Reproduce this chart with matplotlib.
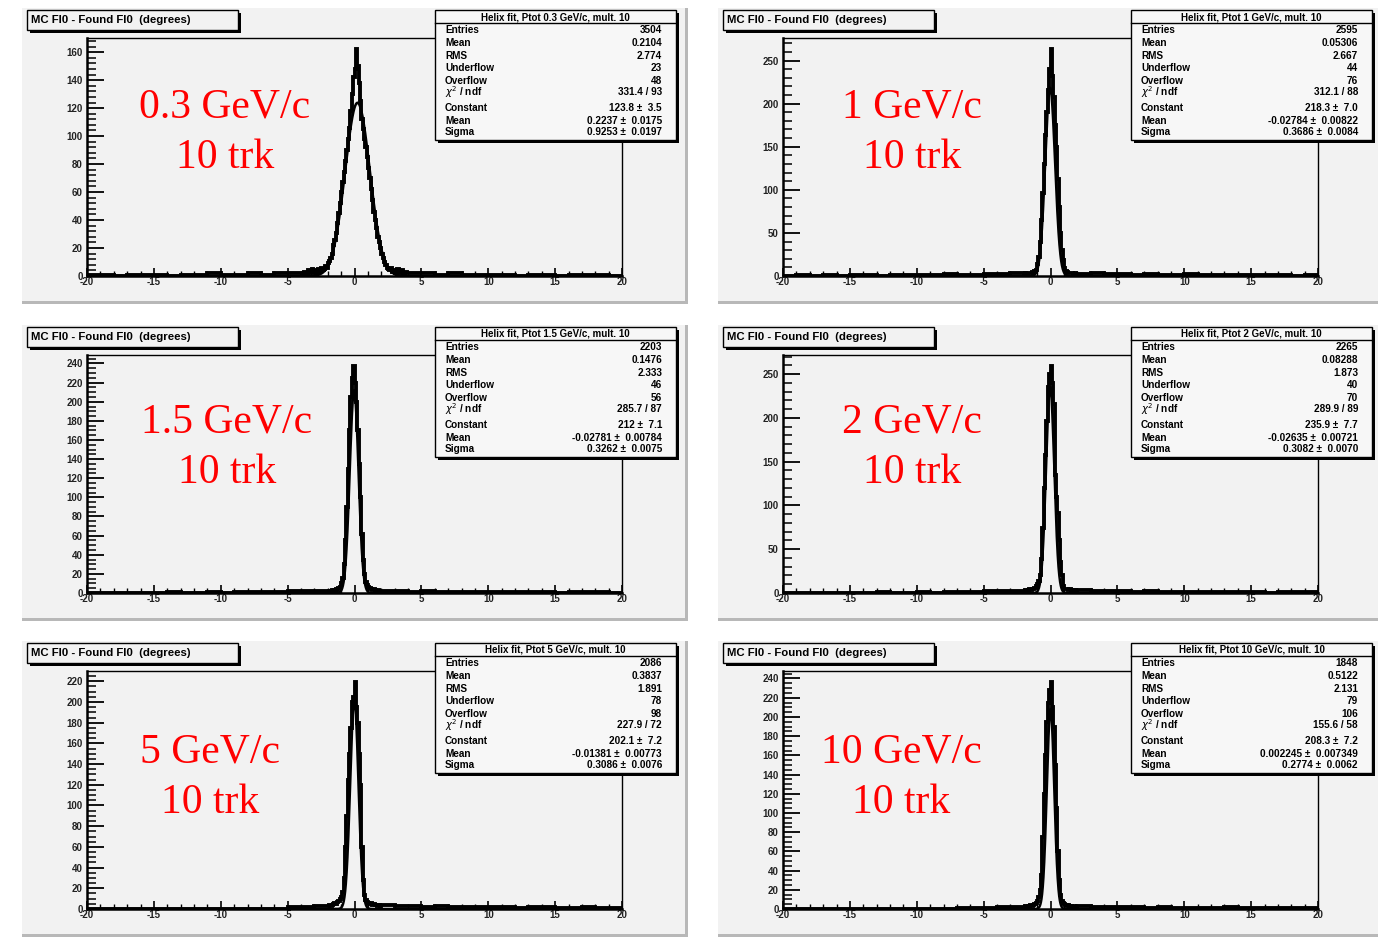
import numpy as np
import matplotlib.pyplot as plt
from matplotlib.patches import Rectangle
from matplotlib.ticker import MultipleLocator

plt.rcParams["axes.unicode_minus"] = False

W, H = 1378, 942

# histogram counts (per 0.1 deg bin); core is 0.1 deg bins, tails are 1 deg bins
core_lim = [4, 2, 2, 2, 2, 2]

core_03 = [2, 1, 3, 2, 1, 4, 2, 3, 5, 2,
           3, 4, 2, 5, 3, 6, 4, 5, 7, 6,
           9, 11, 13, 16, 22, 26, 31, 38, 45, 52,
           60, 67, 74, 82, 90, 98, 106, 118, 130, 142,
           148, 162, 150, 138, 125, 112, 105, 98, 92, 85,
           77, 70, 62, 54, 46, 40, 34, 28, 24, 20,
           16, 13, 10, 8, 6, 5, 4, 6, 3, 4,
           2, 3, 5, 2, 3, 4, 2, 1, 3, 2]
left_03 = [1, 1, 0, 1, 1, 1, 0, 1, 1, 2, 1, 1, 2, 1, 2, 2]
right_03 = [2, 2, 1, 2, 1, 1, 1, 1, 0, 1, 1, 0, 1, 1, 1, 0]

core_1 = [2, 3, 2, 4, 3, 4, 5, 4, 6, 7,
          14, 22, 40, 65, 96, 130, 164, 190, 216, 240,
          263, 232, 208, 175, 150, 112, 80, 50, 30, 19,
          9, 6, 5, 4, 3, 4, 3, 2, 3, 2]
left_1 = [0, 1, 0, 1, 0, 1, 1, 0, 1, 1, 1, 1, 2, 1, 1, 2, 2, 3]
right_1 = [2, 3, 2, 2, 1, 2, 1, 1, 2, 1, 1, 1, 1, 1, 1, 1, 0, 1]

core_15 = [1, 2, 2, 3, 2, 3, 4, 3, 5, 6,
           10, 16, 30, 55, 90, 130, 170, 205, 225, 237,
           220, 200, 170, 135, 100, 62, 35, 20, 12, 8,
           6, 5, 4, 3, 4, 3, 2, 3, 2, 2]
left_15 = [0, 0, 0, 0, 0, 0, 1, 0, 0, 1, 0, 1, 1, 1, 1, 2, 2, 2]
right_15 = [2, 2, 1, 2, 1, 1, 1, 1, 1, 1, 1, 1, 1, 0, 1, 1, 1, 0]

core_2 = [2, 3, 2, 3, 4, 3, 4, 5, 6, 8,
          10, 14, 20, 39, 74, 120, 158, 197, 235, 250,
          259, 240, 216, 135, 110, 91, 60, 35, 20, 8,
          5, 4, 5, 3, 4, 3, 3, 2, 3, 2]
left_2 = [0, 0, 0, 0, 0, 0, 0, 1, 0, 0, 1, 0, 1, 1, 1, 2, 2, 2]
right_2 = [3, 2, 2, 2, 1, 2, 1, 1, 1, 1, 1, 1, 1, 1, 0, 1, 1, 1]

core_5 = [3, 4, 3, 4, 5, 6, 5, 7, 8, 10,
          12, 16, 30, 60, 90, 125, 150, 175, 200, 205,
          219, 195, 180, 150, 120, 60, 28, 14, 9, 7,
          6, 5, 6, 4, 5, 4, 4, 3, 4, 3]
left_5 = [0, 0, 0, 0, 0, 0, 0, 0, 0, 0, 0, 0, 0, 0, 0, 2, 2, 3]
right_5 = [4, 3, 3, 2, 3, 2, 2, 2, 2, 2, 1, 2, 2, 1, 1, 2, 1, 1]

core_10 = [2, 3, 2, 3, 2, 4, 3, 4, 5, 6,
           8, 12, 20, 35, 75, 120, 160, 195, 215, 228,
           236, 210, 190, 150, 105, 60, 30, 15, 8, 6,
           5, 4, 3, 4, 3, 3, 2, 3, 2, 2]
left_10 = [0, 0, 0, 0, 0, 0, 0, 0, 0, 0, 0, 0, 0, 1, 1, 1, 2, 2]
right_10 = [3, 2, 2, 2, 2, 1, 2, 1, 1, 1, 1, 2, 1, 1, 1, 1, 1, 1]

cores = [core_03, core_1, core_15, core_2, core_5, core_10]
lefts = [left_03, left_1, left_15, left_2, left_5, left_10]
rights = [right_03, right_1, right_15, right_2, right_5, right_10]

# stats boxes
ptot = ["0.3", "1", "1.5", "2", "5", "10"]
entries = ["3504", "2595", "2203", "2265", "2086", "1848"]
h_mean = ["0.2104", "0.05306", "0.1476", "0.08288", "0.3837", "0.5122"]
h_rms = ["2.774", "2.667", "2.333", "1.873", "1.891", "2.131"]
underflow = ["23", "44", "46", "40", "78", "79"]
overflow = ["48", "76", "56", "70", "98", "106"]
chi2 = ["331.4 / 93", "312.1 / 88", "285.7 / 87", "289.9 / 89", "227.9 / 72", "155.6 / 58"]
const = [123.8, 218.3, 212, 235.9, 202.1, 208.3]
const_s = ["123.8 \u00b1  3.5", "218.3 \u00b1  7.0", "212 \u00b1  7.1",
           "235.9 \u00b1  7.7", "202.1 \u00b1  7.2", "208.3 \u00b1  7.2"]
fmean = [0.2237, -0.02784, -0.02781, -0.02635, -0.01381, 0.002245]
fmean_s = ["0.2237 \u00b1  0.0175", "-0.02784 \u00b1  0.00822", "-0.02781 \u00b1  0.00784",
           "-0.02635 \u00b1  0.00721", "-0.01381 \u00b1  0.00773", "0.002245 \u00b1  0.007349"]
sigma = [0.9253, 0.3686, 0.3262, 0.3082, 0.3086, 0.2774]
sigma_s = ["0.9253 \u00b1  0.0197", "0.3686 \u00b1  0.0084", "0.3262 \u00b1  0.0075",
           "0.3082 \u00b1  0.0070", "0.3086 \u00b1  0.0076", "0.2774 \u00b1  0.0062"]

y_major = [20, 50, 20, 50, 20, 20]
y_minor = [4, 10, 5, 10, 5, 5]

# panel layout (pixels)
cols = [22, 718]
rows = [8, 325, 641]
red_pos = [(203, 99), (194, 99), (205, 97), (194, 97), (188, 111), (183, 111)]

BG = "#f2f2f2"
SANS = "Liberation Sans"


def fx(x):
    return x / W


def fy(y):
    return 1 - y / H


def frect(fig, x0, y0, x1, y1, **kw):
    r = Rectangle((fx(x0), fy(y1)), (x1 - x0) / W, (y1 - y0) / H,
                  transform=fig.transFigure, **kw)
    fig.add_artist(r)


fig = plt.figure(figsize=(W / 100, H / 100), dpi=100)
fig.patch.set_facecolor("white")

for i in range(6):
    L = cols[i % 2]
    T = rows[i // 2]
    # pad frame
    frect(fig, L, T, L + 666, T + 296, facecolor=BG, edgecolor="none", zorder=0)
    frect(fig, L + 663, T, L + 666, T + 296, facecolor="#b8b8b8", edgecolor="none", zorder=0.5)
    frect(fig, L, T + 293, L + 666, T + 296, facecolor="#b8b8b8", edgecolor="none", zorder=0.5)

    ax = fig.add_axes([fx(L + 65), fy(T + 268), 535 / W, 238 / H])
    ax.set_facecolor(BG)

    lim = core_lim[i]
    nl = len(lefts[i])
    nc = len(cores[i])
    nr = len(rights[i])
    e_left = np.linspace(-20, -lim, nl + 1)
    e_core = np.linspace(-lim, lim, nc + 1)
    e_right = np.linspace(lim, 20, nr + 1)
    edges = np.concatenate([e_left[:-1], e_core[:-1], e_right])
    counts = np.array(lefts[i] + cores[i] + rights[i], dtype=float)
    ax.stairs(counts, edges, color="black", lw=2.8, baseline=None, zorder=3)

    # gaussian fit drawn from the fitted parameters in the stats box
    xs = np.linspace(-20, 20, 4001)
    ys = const[i] * np.exp(-0.5 * ((xs - fmean[i]) / sigma[i]) ** 2)
    ax.plot(xs, ys, color="black", lw=1.8, zorder=2)

    ymax = 1.05 * counts.max()
    ax.set_xlim(-20, 20)
    ax.set_ylim(0, ymax)
    ax.xaxis.set_major_locator(MultipleLocator(5))
    ax.xaxis.set_minor_locator(MultipleLocator(1))
    ax.yaxis.set_major_locator(MultipleLocator(y_major[i]))
    ax.yaxis.set_minor_locator(MultipleLocator(y_minor[i]))
    ax.tick_params(axis="x", which="major", direction="in", length=6, width=1.2,
                   labelsize=7, pad=1)
    ax.tick_params(axis="x", which="minor", direction="in", length=3.5, width=1.0)
    ax.tick_params(axis="y", which="major", direction="in", length=12, width=1.3,
                   labelsize=7, pad=3)
    ax.tick_params(axis="y", which="minor", direction="in", length=6.5, width=1.1)
    for lab in ax.get_xticklabels() + ax.get_yticklabels():
        lab.set_fontfamily(SANS)
        lab.set_fontweight("bold")
        lab.set_color("#222222")
    ax.spines["left"].set_linewidth(1.8)
    ax.spines["bottom"].set_linewidth(1.8)
    ax.spines["top"].set_linewidth(1.0)
    ax.spines["right"].set_linewidth(1.0)

    # title box
    frect(fig, L + 8, T + 5, L + 219, T + 25, facecolor="black", edgecolor="none", zorder=5)
    frect(fig, L + 5, T + 2, L + 216, T + 22, facecolor=BG, edgecolor="black", lw=1.0, zorder=6)
    fig.text(fx(L + 9), fy(T + 12), "MC FI0 - Found FI0  (degrees)", fontsize=8.2,
             fontweight="bold", family=SANS, va="center", ha="left", zorder=7)

    # stats box
    bx0, bx1 = L + 413, L + 654
    by0, by1 = T + 2, T + 132
    frect(fig, bx0 + 3, by0 + 3, bx1 + 3, by1 + 3, facecolor="black", edgecolor="none", zorder=5)
    frect(fig, bx0, by0, bx1, by1, facecolor="#f7f7f7", edgecolor="black", lw=1.0, zorder=6)
    fig.add_artist(plt.Line2D([fx(bx0), fx(bx1)], [fy(by0 + 13), fy(by0 + 13)],
                              transform=fig.transFigure, color="black", lw=1.0, zorder=7))
    fig.text(fx((bx0 + bx1) / 2), fy(by0 + 7), "Helix fit, Ptot %s GeV/c, mult. 10" % ptot[i],
             fontsize=7, fontweight="bold", family=SANS, ha="center", va="center", zorder=8)
    labels = ["Entries", "Mean", "RMS", "Underflow", "Overflow", r"$\chi^2$ / ndf",
              "Constant", "Mean", "Sigma"]
    values = [entries[i], h_mean[i], h_rms[i], underflow[i], overflow[i], chi2[i],
              const_s[i], fmean_s[i], sigma_s[i]]
    row_y = [20, 33, 46, 58, 71, 82, 98, 111, 122]
    for lab, val, ry in zip(labels, values, row_y):
        fig.text(fx(bx0 + 10), fy(by0 + ry), lab, fontsize=7.2, fontweight="bold",
                 family=SANS, ha="left", va="center", zorder=8)
        fig.text(fx(bx1 - 14), fy(by0 + ry), val, fontsize=7.2, fontweight="bold",
                 family=SANS, ha="right", va="center", zorder=8)

    # red annotation
    rx, ry = red_pos[i]
    fig.text(fx(L + rx), fy(T + ry), "%s GeV/c" % ptot[i], color="red", fontsize=30,
             family="Liberation Serif", ha="center", va="center", zorder=8)
    fig.text(fx(L + rx), fy(T + ry + 51), "10 trk", color="red", fontsize=30,
             family="Liberation Serif", ha="center", va="center", zorder=8)

fig.savefig("out.png", dpi=100)
